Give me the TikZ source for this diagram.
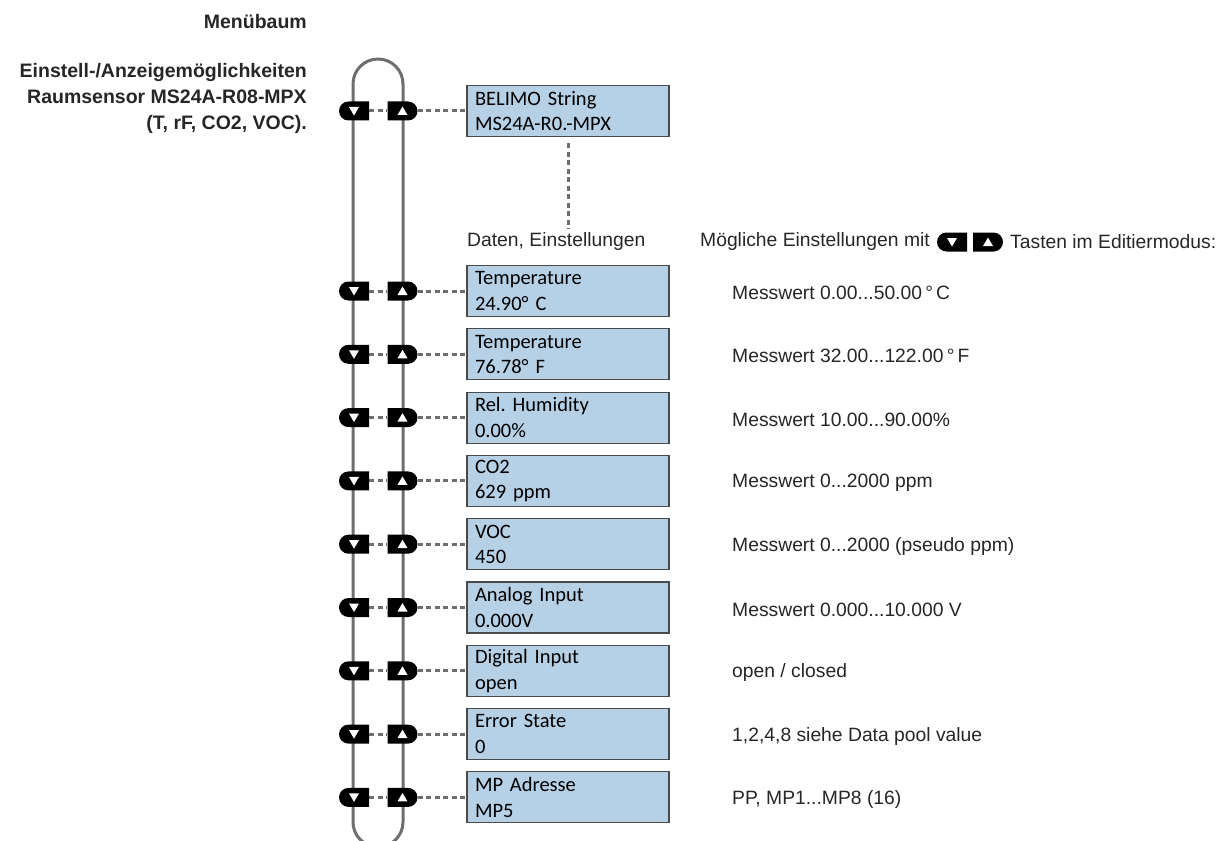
\documentclass[tikz,border=0pt]{standalone}
\usepackage{fontspec}
\setmainfont{Liberation Sans}
\newfontfamily\boxfont[WordSpace=0.85]{Carlito}
\usetikzlibrary{shapes.misc}
\definecolor{boxblue}{HTML}{B6D0E6}
\definecolor{boxline}{HTML}{4A4A4A}
\definecolor{railgray}{HTML}{6E6E6E}
\frenchspacing
\tikzset{
  btn/.style={rounded rectangle, fill=black, draw=none, minimum width=30pt, minimum height=19pt, inner sep=0pt},
  dnbtn/.style={btn, rounded rectangle right arc=none,
    path picture={\fill[white] ([xshift=-5pt,yshift=4pt]path picture bounding box.center) -- ([xshift=5pt,yshift=4pt]path picture bounding box.center) -- ([yshift=-4.5pt]path picture bounding box.center) -- cycle;}},
  upbtn/.style={btn, rounded rectangle left arc=none,
    path picture={\fill[white] ([xshift=-5pt,yshift=-4pt]path picture bounding box.center) -- ([xshift=5pt,yshift=-4pt]path picture bounding box.center) -- ([yshift=4.5pt]path picture bounding box.center) -- cycle;}},
  databox/.style={rectangle, draw=boxline, line width=1.1pt, fill=boxblue, minimum width=202pt, minimum height=51pt, text width=186pt, inner xsep=8pt, inner ysep=0pt, align=left, font=\boxfont\frenchspacing\fontsize{20.5}{25.5}\selectfont},
  dashconn/.style={draw=railgray, line width=3pt, dash pattern=on 5pt off 3.5pt},
  rail/.style={draw=railgray, line width=3pt},
  plain/.style={anchor=west, inner sep=0pt, font=\fontsize{19.3}{23}\selectfont, text=black!85},
  desc/.style={plain},
  title/.style={anchor=east, inner sep=0pt, align=right, font=\bfseries\fontsize{19.5}{26}\selectfont, text=black!85}
}
\begin{document}
\begin{tikzpicture}[x=1pt,y=-1pt]
\useasboundingbox (0,0) rectangle (1225,840);
\clip (0,0) rectangle (1225,840);
% titles
\node[title] (t1) at (307,22) {Menübaum};
\node[title] (t2) at (307,98) {Einstell-/Anzeigemöglichkeiten\\Raumsensor MS24A-R08-MPX\\(T, rF, CO2, VOC).};
% rails
\coordinate (Ltop) at (353,84);
\coordinate (Rtop) at (403,84);
\coordinate (Lbot) at (353,822);
\coordinate (Rbot) at (403,822);
\path[rail] (Lbot) -- (Ltop) arc[start angle=180,end angle=0,radius=25pt] -- (Rbot) arc[start angle=0,end angle=-180,radius=25pt] -- cycle;
% top row
\node[dnbtn] (d0) at (354,111) {};
\node[upbtn] (u0) at (402.5,111) {};
\node[databox] (b0) at (568,111) {BELIMO String\\MS24A-R0.-MPX};
\path[dashconn] (d0.east) -- (u0.west);
\path[dashconn] (u0.east) -- (b0.west);
\coordinate (vend) at (568,229);
\path[dashconn] (b0.south) ++(0,6) -- (vend);
\node[plain] (daten) at (467,242) {Daten, Einstellungen};
% header right
\node[plain] (moeg) at (700,242) {Mögliche Einstellungen mit};
\node[dnbtn] (hd) at (952,242) {};
\node[upbtn] (hu) at (988,242) {};
\node[plain] (tasten) at (1010,242) {Tasten im Editiermodus:};
% rows
\foreach \i/\yy in {1/291,2/354.3,3/417.6,4/480.9,5/544.2,6/607.5,7/670.8,8/734.1,9/797.4}{
  \node[dnbtn] (d\i) at (354,\yy) {};
  \node[upbtn] (u\i) at (402.5,\yy) {};
}
\node[databox] (b1) at (568,291) {Temperature\\24.90° C};
\node[databox] (b2) at (568,354.3) {Temperature\\76.78° F};
\node[databox] (b3) at (568,417.6) {Rel. Humidity\\0.00\%};
\node[databox] (b4) at (568,480.9) {CO2\\629 ppm};
\node[databox] (b5) at (568,544.2) {VOC\\450};
\node[databox] (b6) at (568,607.5) {Analog Input\\0.000V};
\node[databox] (b7) at (568,670.8) {Digital Input\\open};
\node[databox] (b8) at (568,734.1) {Error State\\0};
\node[databox] (b9) at (568,797.4) {MP Adresse\\MP5};
\foreach \i in {1,...,9}{
  \path[dashconn] (d\i.east) -- (u\i.west);
  \path[dashconn] (u\i.east) -- (b\i.west);
}
\node[desc] (m1) at (732,293) {Messwert 0.00...50.00\,°\,C};
\node[desc] (m2) at (732,356.3) {Messwert 32.00...122.00\,°\,F};
\node[desc] (m3) at (732,419.6) {Messwert 10.00...90.00\%};
\node[desc] (m4) at (732,482.9) {Messwert 0...2000 ppm};
\node[desc] (m5) at (732,546.2) {Messwert 0...2000 (pseudo ppm)};
\node[desc] (m6) at (732,609.5) {Messwert 0.000...10.000 V};
\node[desc] (m7) at (732,672.8) {open / closed};
\node[desc] (m8) at (732,736.1) {1,2,4,8 siehe Data pool value};
\node[desc] (m9) at (732,799.4) {PP, MP1...MP8 (16)};
\end{tikzpicture}
\end{document}
